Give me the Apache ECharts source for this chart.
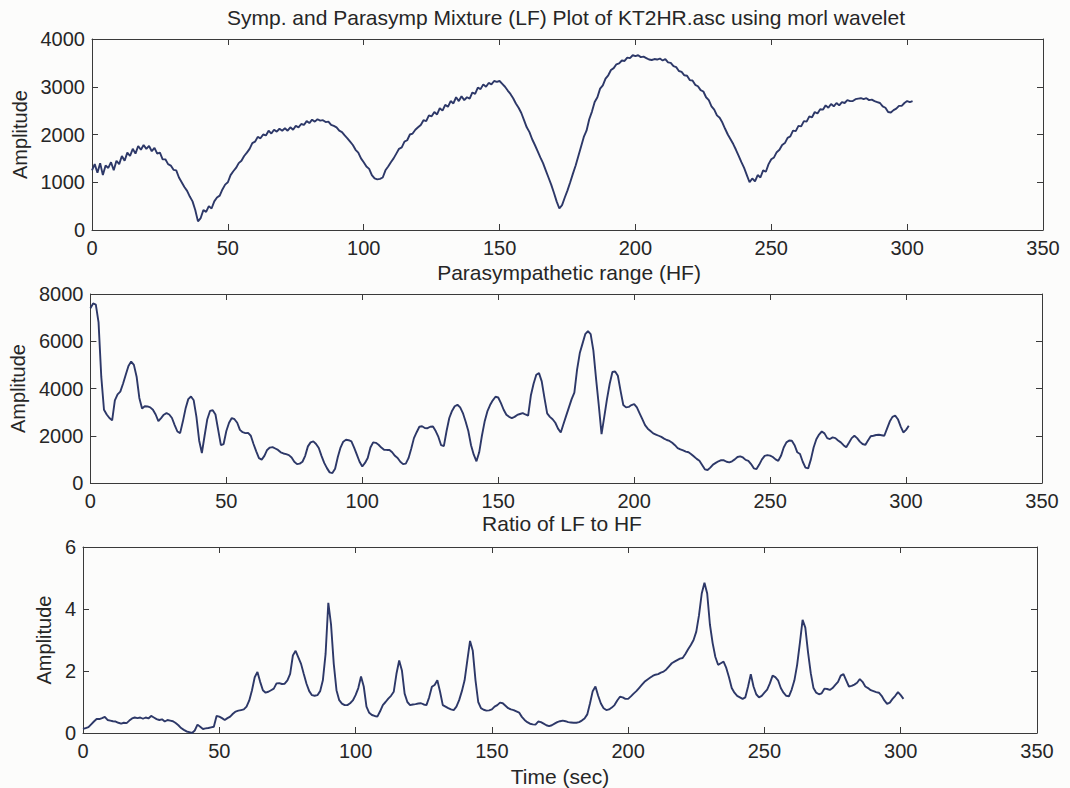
<!DOCTYPE html>
<html>
<head>
<meta charset="utf-8">
<script src="https://cdn.jsdelivr.net/npm/echarts@6/dist/echarts.min.js"></script>
<style>
  html, body { margin: 0; padding: 0; background: #fcfcfb; }
  #chart { width: 1070px; height: 788px; }
</style>
</head>
<body>
<div id="chart"></div>
<script>
// Sampling step of the wavelet outputs, in seconds
const STEP = 1;

// Panel titles and axis text
const mainTitle = 'Symp. and Parasymp Mixture (LF) Plot of KT2HR.asc using morl wavelet';
const hfTitle = 'Parasympathetic range (HF)';
const ratioTitle = 'Ratio of LF to HF';
const timeLabel = 'Time (sec)';
const ampLabel = 'Amplitude';

// Axis ranges / tick steps
const xMax = 350, xStep = 50;
const lfMax = 4000, lfStep = 1000;
const hfMax = 8000, hfStep = 2000;
const ratioMax = 6, ratioStep = 2;

// Symp. + parasymp mixture (LF band) amplitude, one value per second
const lf = [
  1250,1380,1200,1400,1150,1350,1300,1420,1250,1450,
  1380,1550,1450,1620,1550,1700,1600,1760,1680,1780,
  1700,1760,1650,1720,1600,1620,1480,1480,1380,1350,
  1260,1250,1100,1000,900,820,700,600,420,180,
  250,420,380,500,450,600,680,720,850,950,
  1000,1150,1230,1300,1400,1450,1550,1620,1700,1820,
  1850,1950,1920,2000,1980,2080,2020,2100,2060,2120,
  2080,2130,2080,2150,2100,2180,2150,2220,2200,2280,
  2240,2310,2270,2320,2290,2300,2260,2270,2200,2180,
  2150,2080,2050,1980,1920,1850,1780,1680,1620,1500,
  1420,1330,1280,1150,1080,1060,1070,1100,1250,1330,
  1420,1500,1600,1700,1730,1850,1880,2000,2020,2100,
  2150,2200,2300,2280,2400,2380,2470,2420,2550,2500,
  2620,2580,2700,2650,2780,2700,2800,2720,2780,2750,
  2880,2850,2980,2950,3050,3000,3080,3050,3120,3100,
  3120,3060,3000,2920,2850,2760,2650,2560,2450,2300,
  2150,2050,1900,1780,1650,1520,1400,1250,1100,950,
  780,600,450,520,680,830,1000,1180,1350,1550,
  1750,1950,2080,2320,2480,2680,2780,2960,3030,3170,
  3240,3350,3390,3470,3490,3550,3540,3610,3600,3660,
  3640,3660,3620,3630,3600,3570,3560,3580,3570,3590,
  3550,3580,3510,3500,3430,3410,3330,3310,3240,3230,
  3140,3130,3040,3010,2930,2900,2780,2720,2590,2520,
  2400,2350,2250,2120,2000,1900,1800,1680,1550,1420,
  1300,1150,1000,1080,1020,1150,1100,1250,1220,1380,
  1480,1520,1630,1680,1780,1820,1930,1960,2080,2070,
  2180,2170,2280,2270,2380,2360,2470,2440,2530,2520,
  2610,2560,2640,2590,2660,2610,2680,2660,2720,2700,
  2700,2740,2750,2760,2740,2760,2720,2730,2700,2680,
  2660,2590,2560,2470,2460,2510,2540,2600,2600,2660,
  2700,2680,2700
];

// Parasympathetic (HF band) amplitude, one value per second
const hf = [
  7400,7600,7550,6800,4500,3100,2900,2750,2650,3500,
  3750,3870,4200,4580,4950,5140,5000,4500,3600,3150,
  3250,3240,3200,3100,2900,2620,2750,2890,2960,2900,
  2750,2450,2180,2110,2600,3150,3550,3660,3500,2800,
  1800,1270,2000,2700,3050,3080,2900,2250,1600,1650,
  2200,2550,2750,2700,2550,2250,2150,2110,2120,2000,
  1650,1340,1050,990,1150,1400,1500,1520,1460,1400,
  1300,1250,1220,1180,1080,900,800,820,900,1150,
  1550,1720,1760,1650,1480,1150,850,630,450,420,
  600,1100,1500,1750,1830,1810,1760,1500,1200,900,
  700,850,1060,1500,1720,1700,1620,1500,1410,1400,
  1400,1300,1150,1060,900,800,820,1050,1450,1900,
  2150,2380,2400,2330,2320,2380,2390,2200,1950,1600,
  1560,2200,2750,3050,3250,3310,3200,2960,2600,2200,
  1600,1200,920,1300,2000,2600,3030,3300,3500,3650,
  3620,3380,3100,2890,2800,2750,2800,2880,2920,2960,
  2900,2850,3700,4200,4580,4650,4300,3600,2950,2800,
  2700,2550,2300,2140,2500,2850,3200,3550,3830,4800,
  5500,5900,6300,6430,6300,5600,4400,3270,2070,2800,
  3550,4200,4700,4720,4540,3900,3300,3200,3220,3300,
  3340,3200,2950,2700,2450,2300,2200,2100,2050,2000,
  1950,1880,1820,1780,1700,1600,1480,1420,1380,1330,
  1300,1220,1120,1020,940,760,580,550,650,780,
  850,920,970,960,900,870,920,1000,1100,1130,
  1080,980,940,800,620,590,780,1000,1150,1180,
  1160,1100,1000,940,1150,1500,1720,1800,1790,1600,
  1300,1230,900,650,620,1000,1500,1850,2050,2180,
  2100,1900,1860,1930,1900,1800,1720,1600,1510,1700,
  1900,2000,1900,1750,1650,1610,1800,1980,2000,2030,
  2040,2020,2000,2300,2600,2800,2850,2700,2400,2140,
  2250,2420
];

// LF / HF ratio, one value per second
const ratio = [
  0.13,0.16,0.19,0.28,0.37,0.45,0.45,0.48,0.52,0.42,
  0.40,0.38,0.37,0.33,0.30,0.33,0.32,0.40,0.47,0.50,
  0.48,0.50,0.46,0.50,0.47,0.55,0.50,0.45,0.42,0.44,
  0.37,0.42,0.40,0.38,0.32,0.25,0.16,0.10,0.05,0.03,
  0.00,0.08,0.27,0.20,0.13,0.15,0.16,0.18,0.20,0.55,
  0.53,0.48,0.42,0.48,0.53,0.62,0.69,0.72,0.74,0.76,
  0.85,1.05,1.38,1.80,1.97,1.65,1.38,1.30,1.33,1.38,
  1.43,1.60,1.61,1.58,1.59,1.70,1.91,2.50,2.65,2.44,
  2.23,1.90,1.59,1.35,1.22,1.20,1.22,1.35,1.70,2.55,
  4.20,3.50,2.23,1.38,1.06,0.95,0.90,0.90,0.96,1.05,
  1.22,1.45,1.82,1.50,0.85,0.65,0.58,0.55,0.53,0.70,
  0.90,1.00,1.11,1.20,1.33,1.91,2.34,2.02,1.27,1.00,
  0.90,0.92,0.93,0.95,0.96,0.92,0.90,1.15,1.49,1.55,
  1.70,1.33,0.90,0.85,0.80,0.76,0.74,0.85,1.06,1.35,
  1.70,2.34,2.97,2.65,1.70,1.00,0.80,0.75,0.72,0.73,
  0.76,0.85,0.90,0.98,0.96,0.88,0.80,0.76,0.74,0.70,
  0.66,0.52,0.42,0.35,0.30,0.28,0.27,0.37,0.35,0.30,
  0.25,0.22,0.25,0.30,0.35,0.38,0.40,0.38,0.35,0.34,
  0.33,0.33,0.35,0.40,0.47,0.60,0.95,1.35,1.50,1.20,
  0.95,0.80,0.74,0.76,0.82,0.90,1.05,1.17,1.15,1.10,
  1.10,1.18,1.27,1.35,1.45,1.55,1.65,1.72,1.78,1.84,
  1.88,1.90,1.95,1.98,2.05,2.15,2.25,2.30,2.35,2.40,
  2.42,2.55,2.70,2.84,3.00,3.27,3.80,4.50,4.85,4.50,
  3.50,2.90,2.45,2.20,2.25,2.30,2.10,1.80,1.45,1.30,
  1.20,1.15,1.10,1.15,1.50,1.90,1.50,1.25,1.15,1.20,
  1.30,1.40,1.60,1.85,1.80,1.70,1.45,1.30,1.20,1.18,
  1.40,1.70,2.20,2.90,3.65,3.40,2.60,1.93,1.45,1.30,
  1.25,1.28,1.43,1.42,1.39,1.45,1.55,1.65,1.85,1.90,
  1.70,1.50,1.52,1.56,1.62,1.74,1.65,1.50,1.45,1.38,
  1.35,1.32,1.30,1.20,1.05,0.94,0.98,1.10,1.20,1.32,
  1.22,1.10
];

const LINE_COLOR = '#2d3868';
const AXIS_COLOR = '#3a3a3a';
const TEXT_COLOR = '#262626';
const FONT = '"Liberation Sans", Arial, Helvetica, sans-serif';

const grids = [
  { left: 92, top: 39,  width: 951, height: 191 },
  { left: 89, top: 294, width: 953, height: 189 },
  { left: 83, top: 547, width: 954, height: 187 }
];

const yRanges = [
  { max: lfMax, step: lfStep, gap: 61 },
  { max: hfMax, step: hfStep, gap: 60 },
  { max: ratioMax, step: ratioStep, gap: 24 }
];

const toPairs = arr => arr.map((v, i) => [i * STEP, v]);

// ticks point into the plot box; axis lines stay on the box edges
const tickStyle = { show: true, inside: true, length: 6, lineStyle: { color: AXIS_COLOR, width: 1 } };
const lineStyle = { show: true, onZero: false, lineStyle: { color: AXIS_COLOR, width: 1 } };
const plain = v => String(v);

const xAxis = [];
const yAxis = [];
grids.forEach((g, i) => {
  // bottom axis with labels, top axis as box edge with ticks only
  xAxis.push({
    type: 'value', gridIndex: i, position: 'bottom', min: 0, max: xMax, interval: xStep,
    axisLine: lineStyle, axisTick: tickStyle, splitLine: { show: false },
    axisLabel: { fontSize: 20, color: TEXT_COLOR, fontFamily: FONT, margin: 8, formatter: plain },
    name: i === 2 ? timeLabel : '', nameLocation: 'middle', nameGap: 33,
    nameTextStyle: { fontSize: 21, color: TEXT_COLOR, fontFamily: FONT }
  });
  xAxis.push({
    type: 'value', gridIndex: i, position: 'top', min: 0, max: xMax, interval: xStep,
    axisLine: lineStyle, axisTick: tickStyle, splitLine: { show: false },
    axisLabel: { show: false }
  });
  const r = yRanges[i];
  yAxis.push({
    type: 'value', gridIndex: i, position: 'left', min: 0, max: r.max, interval: r.step,
    axisLine: lineStyle, axisTick: tickStyle, splitLine: { show: false },
    axisLabel: { fontSize: 20, color: TEXT_COLOR, fontFamily: FONT, margin: 7, formatter: plain },
    name: ampLabel, nameLocation: 'middle', nameRotate: 90, nameGap: r.gap,
    nameTextStyle: { fontSize: 20, color: TEXT_COLOR, fontFamily: FONT }
  });
  yAxis.push({
    type: 'value', gridIndex: i, position: 'right', min: 0, max: r.max, interval: r.step,
    axisLine: lineStyle, axisTick: tickStyle, splitLine: { show: false },
    axisLabel: { show: false }
  });
});

const seriesData = [lf, hf, ratio];
const series = seriesData.map((arr, i) => ({
  type: 'line', xAxisIndex: i * 2, yAxisIndex: i * 2,
  data: toPairs(arr), showSymbol: false, symbol: 'none', smooth: false,
  lineStyle: { color: LINE_COLOR, width: 1.9 }, silent: true
}));

const centeredText = (text, x, y, size) => ({
  type: 'text', x: x, y: y, silent: true,
  style: { text: text, fontSize: size, fontFamily: FONT, fill: TEXT_COLOR, align: 'center', verticalAlign: 'middle' }
});

const chart = echarts.init(document.getElementById('chart'), null, { renderer: 'svg' });
chart.setOption({
  backgroundColor: '#fcfcfb',
  animation: false,
  grid: grids.map(g => Object.assign({ containLabel: false }, g)),
  xAxis: xAxis,
  yAxis: yAxis,
  series: series,
  graphic: [
    centeredText(mainTitle, 566, 17, 21),
    centeredText(hfTitle, 569, 272, 21),
    centeredText(ratioTitle, 562, 523, 21)
  ]
});
</script>
</body>
</html>
